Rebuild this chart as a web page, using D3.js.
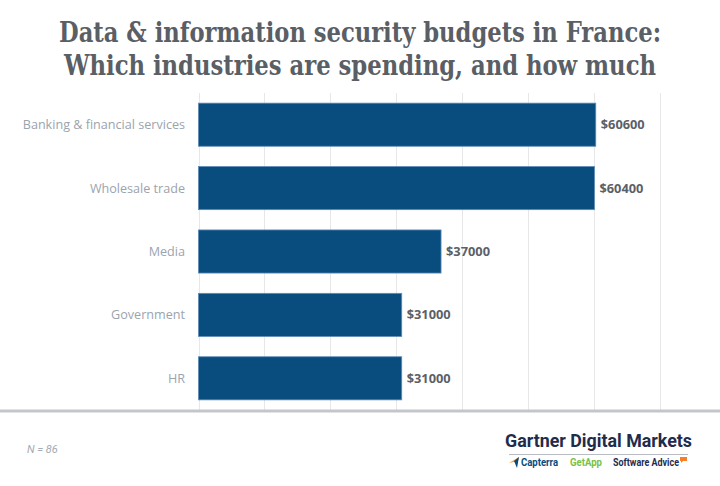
<!DOCTYPE html>
<html><head><meta charset="utf-8">
<script src="https://cdn.jsdelivr.net/npm/d3@7"></script>
<style>
html,body{margin:0;padding:0;background:#fff;}
svg{display:block;}
</style></head>
<body>
<script>
const categories = ["Banking & financial services", "Wholesale trade", "Media", "Government", "HR"];
const values = [60600, 60400, 37000, 31000, 31000];
const gridTicks = [0, 10000, 20000, 30000, 40000, 50000, 60000, 70000];
const titleLines = ["Data & information security budgets in France:", "Which industries are spending, and how much"];
const note = "N = 86";

const W = 720, H = 486;
const svg = d3.select("body").append("svg").attr("width", W).attr("height", H);

const x = d3.scaleLinear().domain([0, 70400]).range([198.5, 660]);
const y = d3.scaleBand().domain(categories).range([93, 410]).paddingInner(0.32).paddingOuter(0.16);

// title
const title = svg.append("g");
titleLines.forEach((t, i) => {
  title.append("text")
    .attr("x", 360).attr("y", 42 + i * 33)
    .attr("text-anchor", "middle")
    .attr("font-family", "'DejaVu Serif Condensed', 'DejaVu Serif', serif")
    .attr("font-weight", "bold")
    .attr("font-size", 27)
    .attr("fill", "#5a5e65")
    .attr("textLength", i === 0 ? 602 : 592)
    .attr("lengthAdjust", "spacingAndGlyphs")
    .text(t);
});

// gridlines
svg.append("g").selectAll("line").data(gridTicks).join("line")
  .attr("x1", (d, i) => Math.round(198.5 + i * 65.9) + 0.5).attr("x2", (d, i) => Math.round(198.5 + i * 65.9) + 0.5)
  .attr("y1", 93).attr("y2", 410)
  .attr("stroke", "#e7e7e7").attr("stroke-width", 1);

// bars
svg.append("g").selectAll("rect").data(values).join("rect")
  .attr("x", x(0))
  .attr("y", (d, i) => y(categories[i]))
  .attr("width", d => x(d) - x(0))
  .attr("height", y.bandwidth())
  .attr("fill", "#084d7e")
  .attr("stroke", "#5d8cb7").attr("stroke-width", 0.8);

// category labels
svg.append("g").selectAll("text").data(categories).join("text")
  .attr("x", 185)
  .attr("y", d => y(d) + y.bandwidth() / 2)
  .attr("dy", "0.35em")
  .attr("text-anchor", "end")
  .attr("font-family", "'Open Sans', sans-serif")
  .attr("font-size", 12.6)
  .attr("fill", "#9aa4af")
  .text(d => d);

// value labels
svg.append("g").selectAll("text").data(values).join("text")
  .attr("x", d => x(d) + 5)
  .attr("y", (d, i) => y(categories[i]) + y.bandwidth() / 2)
  .attr("dy", "0.35em")
  .attr("font-family", "'Open Sans', sans-serif")
  .attr("font-weight", "bold")
  .attr("font-size", 12.8)
  .attr("fill", "#5b6068")
  .text(d => "$" + d);

// bottom rule
svg.append("rect").attr("x", 0).attr("y", 409.5).attr("width", W).attr("height", 3).attr("fill", "#c3c7cb");

// note
svg.append("text").attr("x", 27).attr("y", 453)
  .attr("font-family", "Roboto, sans-serif").attr("font-style", "italic")
  .attr("font-size", 11).attr("fill", "#a3abb4").text(note);

// branding
const b = svg.append("g");
b.append("text").attr("x", 692).attr("y", 447).attr("text-anchor", "end")
  .attr("font-family", "Roboto, sans-serif").attr("font-weight", "bold")
  .attr("font-size", 19).attr("fill", "#1f2c4c")
  .attr("textLength", 187).attr("lengthAdjust", "spacingAndGlyphs")
  .text("Gartner Digital Markets");
b.append("line").attr("x1", 509).attr("x2", 688).attr("y1", 454.5).attr("y2", 454.5)
  .attr("stroke", "#b9bdc3").attr("stroke-width", 1);
// capterra icon
b.append("path").attr("d", "M509,463 L519,457 L518,461 Z").attr("fill", "#ff9d28");
b.append("path").attr("d", "M514,461 L519,457 L517,468 Z").attr("fill", "#044d80");
b.append("text").attr("x", 521).attr("y", 466)
  .attr("font-family", "Roboto, sans-serif").attr("font-weight", "bold")
  .attr("font-size", 10).attr("fill", "#044d80")
  .attr("textLength", 37).attr("lengthAdjust", "spacingAndGlyphs").text("Capterra");
b.append("text").attr("x", 570).attr("y", 466)
  .attr("font-family", "Roboto, sans-serif").attr("font-weight", "bold")
  .attr("font-size", 10).attr("fill", "#7ac143")
  .attr("textLength", 32).attr("lengthAdjust", "spacingAndGlyphs").text("GetApp");
b.append("text").attr("x", 613).attr("y", 466)
  .attr("font-family", "Roboto, sans-serif").attr("font-weight", "bold")
  .attr("font-size", 10).attr("fill", "#1f2c4c")
  .attr("textLength", 66).attr("lengthAdjust", "spacingAndGlyphs").text("Software Advice");
b.append("path").attr("d", "M680,457 h7 v4 h-4 l-2,2 v-2 h-1 Z").attr("fill", "#f58025");
</script>
</body></html>
